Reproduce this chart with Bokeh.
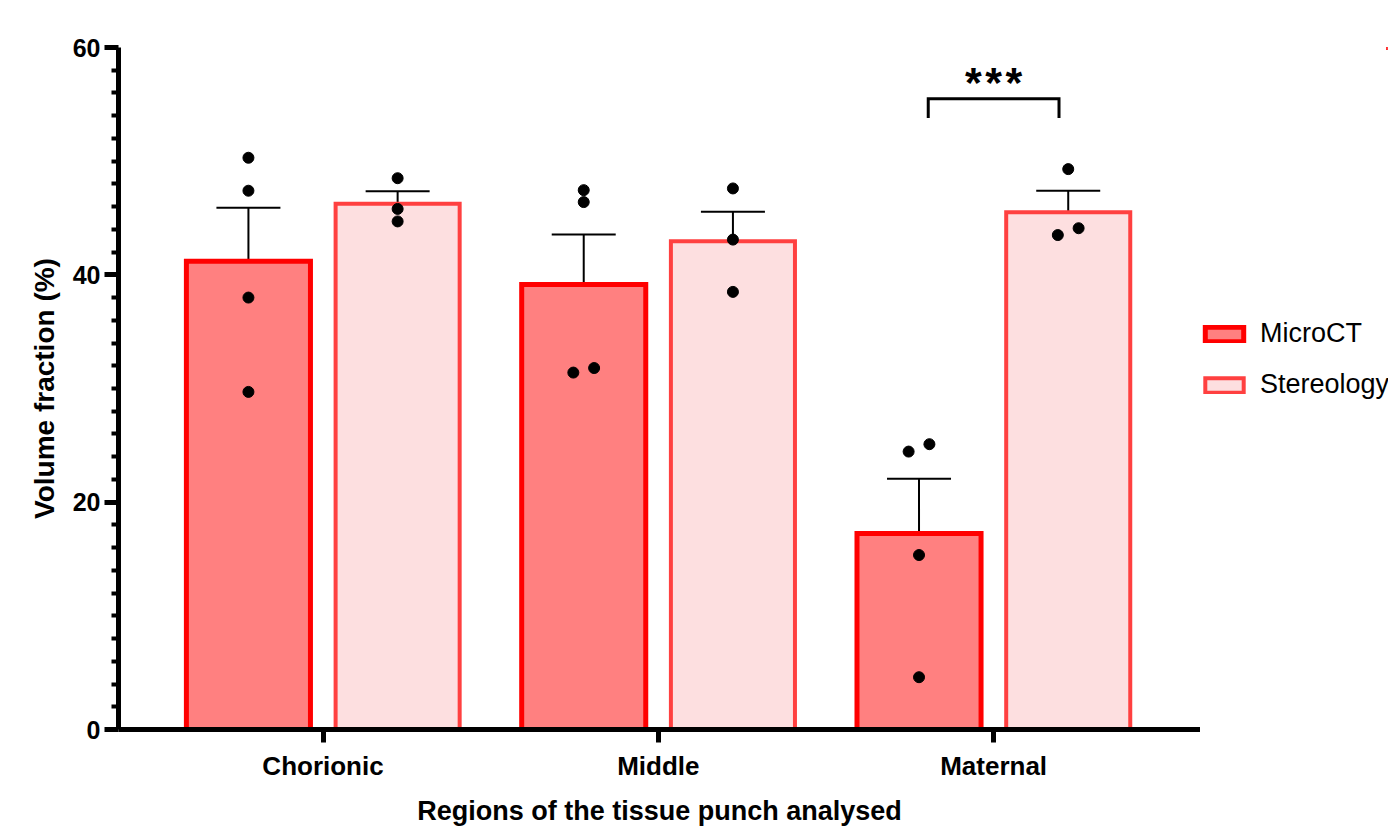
from bokeh.plotting import figure
from bokeh.layouts import row
from bokeh.models import (ColumnDataSource, Range1d, FixedTicker, Legend, LegendItem,
                          Whisker, TeeHead)
from bokeh.embed import file_html
from bokeh.resources import INLINE
from bokeh.core.properties import value

# ---------------- data ----------------
regions = ["Chorionic", "Middle", "Maternal"]
series = ["MicroCT", "Stereology"]
microct_mean = [41.2, 39.15, 17.25]
microct_sem = [4.7, 4.4, 4.8]
stereo_mean = [46.25, 42.95, 45.5]
stereo_sem = [1.1, 2.6, 1.9]
microct_points = [[50.3, 47.4, 38.0, 29.7],
                  [47.45, 46.4, 31.4, 31.8],
                  [24.45, 25.1, 15.35, 4.6]]
stereo_points = [[48.5, 45.8, 44.7],
                 [47.6, 43.1, 38.5],
                 [49.3, 43.5, 44.1]]
y_ticks = [0, 20, 40, 60]
sig_region = "Maternal"
sig_label = "***"

# ---------------- styling ----------------
FONT = "Liberation Sans"
OFFSET = 0.2225
BAR_W = 0.37
colors = {
    "MicroCT": dict(fill="#FF8080", line="#FF0000", lw=5),
    "Stereology": dict(fill="#FDDFE0", line="#FF4040", lw=4),
}

H = 828
MAIN_W, LEG_W = 1200, 188
BL, BT, BB = 118, 47, 98

p = figure(width=MAIN_W, height=H, output_backend="svg", toolbar_location=None,
           x_range=Range1d(-0.61, 2.617), y_range=Range1d(0, 60),
           min_border_left=BL, min_border_right=0, min_border_top=BT,
           min_border_bottom=BB)
p.outline_line_color = None
p.xgrid.visible = False
p.ygrid.visible = False
p.background_fill_color = "white"

# separate narrow panel that carries the legend, to the right of the plot;
# its ranges lie away from the data so only the legend swatches show
leg = figure(width=LEG_W, height=H, output_backend="svg", toolbar_location=None,
             x_range=Range1d(-20, -19), y_range=Range1d(-20, -19),
             x_axis_location=None, y_axis_location=None,
             min_border_left=0, min_border_right=0, min_border_top=0,
             min_border_bottom=0)
leg.outline_line_color = None
leg.xgrid.visible = False
leg.ygrid.visible = False


def spread(vals, thr=0.8, d=0.031):
    offs = [0.0] * len(vals)
    for i in range(len(vals)):
        for j in range(i + 1, len(vals)):
            if abs(vals[i] - vals[j]) < thr:
                lo, hi = (i, j) if vals[i] < vals[j] else (j, i)
                offs[lo] = -d
                offs[hi] = d
    return offs


legend_items = []
for s_name, means, sems, pts, off in [
        ("MicroCT", microct_mean, microct_sem, microct_points, -OFFSET),
        ("Stereology", stereo_mean, stereo_sem, stereo_points, OFFSET)]:
    xs = [i + off for i in range(len(regions))]
    src = ColumnDataSource(dict(x=xs, top=means,
                                upper=[m + e for m, e in zip(means, sems)],
                                lower=[m - e for m, e in zip(means, sems)]))
    c = colors[s_name]
    style = dict(fill_color=c["fill"], line_color=c["line"], line_width=c["lw"],
                 line_join="miter")
    p.vbar(x="x", top="top", width=BAR_W, bottom=0, source=src, **style)
    # same bars in the legend panel (out of its view) give the legend swatch
    sw = leg.vbar(x="x", top="top", width=BAR_W, bottom=0, source=src, **style)
    legend_items.append(LegendItem(label=s_name, renderers=[sw]))
    w = Whisker(base="x", upper="upper", lower="lower", source=src,
                line_color="black", line_width=2,
                upper_head=TeeHead(size=64, line_width=2, line_color="black"),
                lower_head=TeeHead(size=64, line_width=2, line_color="black"))
    p.add_layout(w)
    px, py = [], []
    for i, vals in enumerate(pts):
        offs = spread(vals)
        for v, o in zip(vals, offs):
            px.append(i + off + o)
            py.append(v)
    p.scatter(px, py, size=11, color="black", marker="circle")

# significance bracket
si = regions.index(sig_region)
p.line([si - 0.195, si - 0.195, si + 0.195, si + 0.195], [53.8, 55.5, 55.5, 53.8],
       line_color="black", line_width=3, line_join="miter")
p.text(x=[si], y=[57.0], text=["\u200a".join(sig_label)], text_align="center",
       text_baseline="middle", text_font=value(FONT), text_font_style="bold",
       text_font_size="43px", text_color="black")

# axes
for ax in (p.xaxis[0], p.yaxis[0]):
    ax.axis_line_width = 5
    ax.axis_line_color = "black"
    ax.major_tick_line_width = 5
    ax.major_tick_line_color = "black"
    ax.major_tick_in = 0
    ax.minor_tick_in = 0
    ax.major_label_text_font = FONT
    ax.major_label_text_font_style = "bold"
    ax.major_label_text_color = "black"
    ax.axis_label_text_font = FONT
    ax.axis_label_text_font_style = "bold"
    ax.axis_label_text_font_size = "27px"
    ax.axis_label_text_color = "black"

p.yaxis.ticker = FixedTicker(ticks=y_ticks,
                             minor_ticks=[v for v in range(0, 61, 2) if v not in y_ticks])
p.yaxis.major_label_text_font_size = "25px"
p.yaxis.major_tick_out = 14
p.yaxis.minor_tick_out = 7
p.yaxis.minor_tick_line_width = 4
p.yaxis.minor_tick_line_color = "black"
p.yaxis.major_label_standoff = 4
p.yaxis.axis_label = "Volume fraction (%)"
p.yaxis.axis_label_standoff = 10
p.yaxis.axis_label_text_font_size = "28px"

p.xaxis.ticker = FixedTicker(ticks=list(range(len(regions))))
p.xaxis.major_label_overrides = {i: r for i, r in enumerate(regions)}
p.xaxis.major_label_text_font_size = "26px"
p.xaxis.major_tick_out = 13
p.xaxis.minor_tick_line_color = None
p.xaxis.major_label_standoff = 8
p.xaxis.axis_label = "Regions of the tissue punch analysed"
p.xaxis.axis_label_standoff = 12

legend = Legend(items=legend_items, location=(0, 329), orientation="vertical",
                glyph_width=48, glyph_height=18, label_standoff=12, spacing=20,
                padding=0, margin=0, border_line_color=None, background_fill_alpha=0,
                label_text_font=FONT, label_text_font_size="27px",
                label_text_color="black")
leg.add_layout(legend)

layout = row(p, leg)
open("out.html", "w").write(file_html(layout, INLINE))
